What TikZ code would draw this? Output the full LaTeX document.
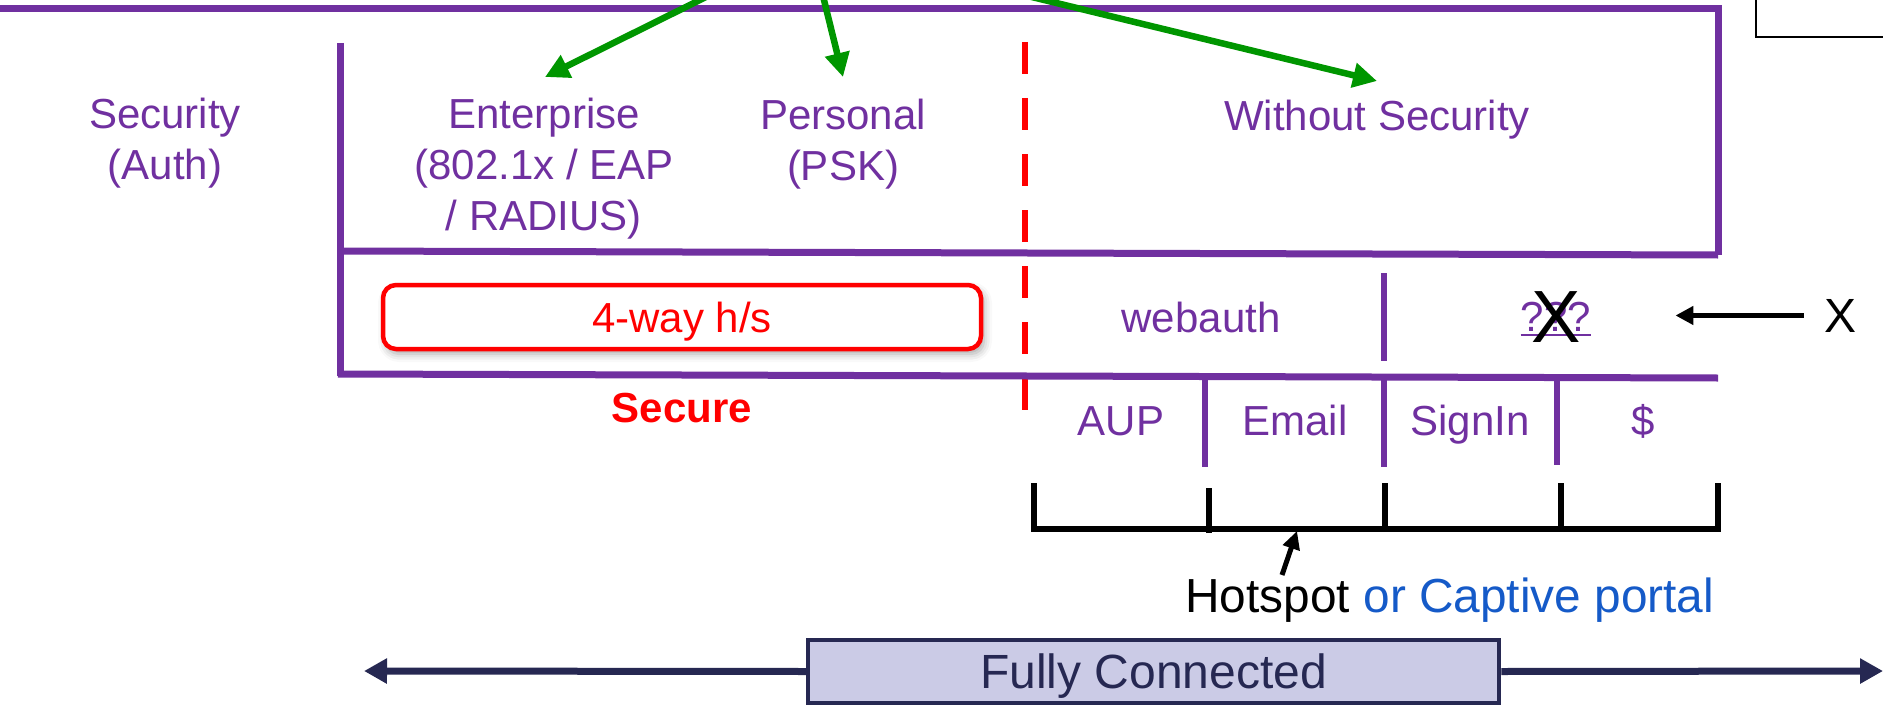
\documentclass[tikz,border=0pt]{standalone}
\usepackage{fontspec}
\setmainfont{Liberation Sans}
\usetikzlibrary{arrows.meta,shadows.blur}
\definecolor{wifipurple}{RGB}{112,48,160}
\definecolor{arrowgreen}{RGB}{0,150,0}
\definecolor{navy}{RGB}{38,40,82}
\definecolor{lavender}{RGB}{203,203,230}
\definecolor{portalblue}{RGB}{21,90,200}
\definecolor{alertred}{RGB}{255,0,0}
\tikzset{
  frame/.style={draw=wifipurple, line width=3.5pt},
  divider/.style={draw=wifipurple, line width=3.25pt},
  lbl/.style={text=wifipurple, font=\fontsize{21}{25.5}\selectfont, inner sep=0pt, align=center},
  garrow/.style={draw=arrowgreen, line width=3.25pt, -{Triangle[length=12pt,width=12pt]}},
  karrow/.style={draw=black, line width=2.75pt, -{Triangle[length=9pt,width=9pt]}},
  harrow/.style={draw=black, line width=2.5pt, -{Triangle[length=9pt,width=8.5pt]}},
  bracket/.style={draw=black, line width=2.75pt},
  hsbox/.style={draw=alertred, line width=2.25pt, rounded corners=6.5pt, fill=white,
    text=alertred, font=\fontsize{21}{25.5}\selectfont,
    minimum width=299pt, minimum height=32pt, text height=15pt, text depth=0pt,
    blur shadow={shadow xshift=1.5pt, shadow yshift=-2.5pt, shadow blur radius=4pt, shadow opacity=35}},
  fcbox/.style={draw=navy, fill=lavender, line width=2.25pt, text=navy,
    font=\fontsize{24}{28}\selectfont, minimum width=345.5pt, minimum height=31.5pt,
    text height=17pt, text depth=0pt, inner sep=0pt},
  navyarrow/.style={draw=navy, line width=3.5pt, -{Triangle[length=11.5pt,width=12pt]}},
}
\begin{document}
\begin{tikzpicture}[x=0.5pt,y=-0.5pt]
\useasboundingbox (0,0) rectangle (1883,706);
\clip (0,0) rectangle (1883,706);

% corner of the neighbouring box
\draw[line width=1.1pt] (1756,-10) -- (1756,37) -- (1900,37);

% secure / open boundary
\draw[alertred, line width=3.4pt, dash pattern=on 16pt off 12pt] (1025,42) -- (1025,412);

% purple grid
\draw[frame] (0,9) -- (1718,9) -- (1718,255);
\draw[frame] (340,43) -- (340,376);
\draw[frame] (338,251) -- (1718,255);
\draw[frame] (338,374) -- (1718,378);
\draw[divider] (1384,273) -- (1384,361);
\draw[divider] (1205,377) -- (1205,467);
\draw[divider] (1384,377) -- (1384,467);
\draw[divider] (1557,377) -- (1557,465);

% security column labels
\node[lbl, anchor=north] (sec) at (165,98) {Security\\(Auth)};
\node[lbl, anchor=north] (ent) at (544,98) {Enterprise\\(802.1x / EAP\\/ RADIUS)};
\node[lbl, anchor=north] (psk) at (843,99) {Personal\\(PSK)};
\node[lbl, anchor=base] (open) at (1377,131) {Without Security};

% arrows coming in from above
\coordinate (src1) at (720,-10);
\coordinate (dst1) at (545,77);
\coordinate (src2) at (821.5,-10);
\coordinate (dst2) at (843,77);
\coordinate (src3) at (1003,-10);
\coordinate (dst3) at (1377,81);
\draw[garrow] (src1) -- (dst1);
\draw[garrow] (src2) -- (dst2);
\draw[garrow] (src3) -- (dst3);

% handshake row
\node[hsbox] (hs) at (682,317) {4-way h/s};
\node[lbl, text=alertred, font=\bfseries\fontsize{21}{25.5}\selectfont, anchor=base] (secure) at (682,422) {Secure};
\node[lbl, anchor=base] (web) at (1201,332) {webauth};
\node[lbl, anchor=base] (q) at (1556,331) {???};
\draw[wifipurple, line width=1pt] ([yshift=-2pt]q.base west) -- ([yshift=-2pt]q.base east);
\node[inner sep=0pt, font=\fontsize{37}{40}\selectfont, anchor=base] (cross) at (1556,342) {X};
\node[inner sep=0pt, font=\fontsize{24}{28}\selectfont, anchor=base] (xl) at (1840,332) {X};
\draw[karrow, shorten <=10pt, shorten >=42pt] (xl.west) -- (xl.west -| q.east);

% portal options
\node[lbl, anchor=base] (aup) at (1121,435) {AUP};
\node[lbl, anchor=base] (email) at (1295,435) {Email};
\node[lbl, anchor=base] (sign) at (1470,435) {SignIn};
\node[lbl, anchor=base] (pay) at (1643,435) {\$};

% bracket
\draw[bracket] (1034,483) -- (1034,529) -- (1718,529) -- (1718,483);
\draw[bracket] (1209,488) -- (1209,533);
\draw[bracket] (1385,483) -- (1385,529);
\draw[bracket] (1561,483) -- (1561,529);
\coordinate (brk) at (1297,531);

\node[inner sep=0pt, font=\fontsize{23.9}{28}\selectfont, anchor=base west] (hot) at (1185,612)
  {Hotspot \textcolor{portalblue}{or Captive portal}};
\coordinate (hotfoot) at (1282,575);
\draw[harrow] (hotfoot) -- (brk);

% connectivity axis
\node[fcbox] (fc) at (1153.5,671.5) {Fully Connected};
\coordinate (axl) at (364,671);
\coordinate (axr) at (1883,671);
\draw[navyarrow] (fc.west) -- (axl);
\draw[navyarrow] (fc.east) -- (axr);
\end{tikzpicture}
\end{document}
